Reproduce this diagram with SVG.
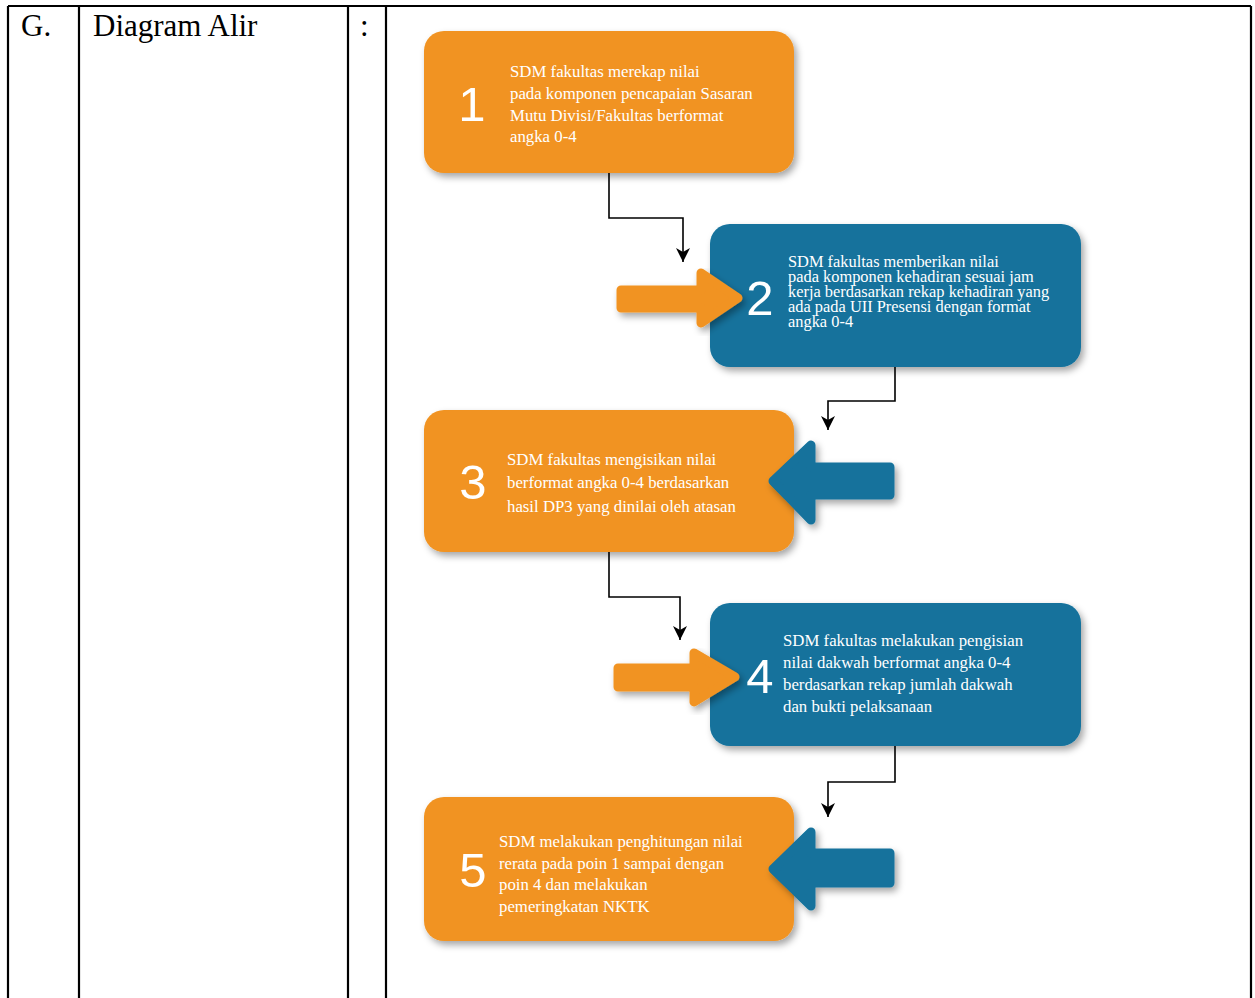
<svg xmlns="http://www.w3.org/2000/svg" width="1255" height="998" viewBox="0 0 1255 998">
<style>
.tbl{stroke:#000;stroke-width:2.2;fill:none}
.hd{font-family:"Liberation Serif","Times New Roman",serif;font-size:31px;fill:#000}
.or{fill:#F19321}
.bl{fill:#13729C}
.num{font-family:"Liberation Sans",Arial,sans-serif;font-size:49px;fill:#fff;text-anchor:middle}
.tx{font-family:"Liberation Serif","Times New Roman",serif;font-size:16.8px;fill:#fff}
.tx2{font-family:"Liberation Serif","Times New Roman",serif;font-size:16.4px;fill:#fff}
.conn{stroke:#000;stroke-width:1.6;fill:none}
.arr-o{fill:#F19321;stroke:#F19321;stroke-width:9;stroke-linejoin:round}
.arr-b{fill:#13729C;stroke:#13729C;stroke-width:9;stroke-linejoin:round}
</style>
<defs>
<filter id="sh" x="-10%" y="-10%" width="125%" height="135%">
<feDropShadow dx="3" dy="4" stdDeviation="3.5" flood-color="#000" flood-opacity="0.35"/>
</filter>
<marker id="ah" markerUnits="userSpaceOnUse" markerWidth="14" markerHeight="16" refX="14" refY="7" orient="auto" viewBox="0 0 14 14">
<path d="M0,0 L14,7 L0,14 L4,7 z" fill="#000"/>
</marker>
</defs>
<rect width="1255" height="998" fill="#fff"/>
<g id="table">
<line class="tbl" x1="8" y1="6" x2="1251" y2="6"/>
<line class="tbl" x1="8" y1="6" x2="8" y2="998"/>
<line class="tbl" x1="79" y1="6" x2="79" y2="998"/>
<line class="tbl" x1="348" y1="6" x2="348" y2="998"/>
<line class="tbl" x1="386" y1="6" x2="386" y2="998"/>
<line class="tbl" x1="1251" y1="6" x2="1251" y2="998"/>
<text class="hd" x="21" y="36">G.</text>
<text class="hd" x="93" y="36">Diagram Alir</text>
<text class="hd" x="360" y="36">:</text>
</g>
<g id="connectors">
<path class="conn" d="M609,173 V218 H683 V262" marker-end="url(#ah)"/>
<path class="conn" d="M895,367 V401 H828 V430" marker-end="url(#ah)"/>
<path class="conn" d="M609,552 V597 H680 V640" marker-end="url(#ah)"/>
<path class="conn" d="M895,746 V782 H828 V817" marker-end="url(#ah)"/>
</g>
<g id="node1">
<rect class="or" x="424" y="31" width="370" height="142" rx="20" filter="url(#sh)"/>
<text class="num" x="472" y="121">1</text>
<text class="tx" x="510" y="77">SDM fakultas merekap nilai</text>
<text class="tx" x="510" y="99">pada komponen pencapaian Sasaran</text>
<text class="tx" x="510" y="121">Mutu Divisi/Fakultas berformat</text>
<text class="tx" x="510" y="142">angka 0-4</text>
</g>
<g id="node2">
<rect class="bl" x="710" y="224" width="371" height="143" rx="20" filter="url(#sh)"/>
<polygon class="arr-o" points="621,290 701,290 701,273 738,298 701,323 701,308 621,308" filter="url(#sh)"/>
<text class="num" x="760" y="315">2</text>
<text class="tx2" x="788" y="267">SDM fakultas memberikan nilai</text>
<text class="tx2" x="788" y="282">pada komponen kehadiran sesuai jam</text>
<text class="tx2" x="788" y="297">kerja berdasarkan rekap kehadiran yang</text>
<text class="tx2" x="788" y="312">ada pada UII Presensi dengan format</text>
<text class="tx2" x="788" y="327">angka 0-4</text>
</g>
<g id="node3">
<rect class="or" x="424" y="410" width="370" height="142" rx="20" filter="url(#sh)"/>
<polygon class="arr-b" points="773,481 811,445 811,467 890,467 890,495 811,495 811,520" filter="url(#sh)"/>
<text class="num" x="473" y="499">3</text>
<text class="tx" x="507" y="465">SDM fakultas mengisikan nilai</text>
<text class="tx" x="507" y="488">berformat angka 0-4 berdasarkan</text>
<text class="tx" x="507" y="512">hasil DP3 yang dinilai oleh atasan</text>
</g>
<g id="node4">
<rect class="bl" x="710" y="603" width="371" height="143" rx="20" filter="url(#sh)"/>
<polygon class="arr-o" points="618,668 694,668 694,653 735,677 694,702 694,687 618,687" filter="url(#sh)"/>
<text class="num" x="760" y="693">4</text>
<text class="tx" x="783" y="646">SDM fakultas melakukan pengisian</text>
<text class="tx" x="783" y="668">nilai dakwah berformat angka 0-4</text>
<text class="tx" x="783" y="690">berdasarkan rekap jumlah dakwah</text>
<text class="tx" x="783" y="712">dan bukti pelaksanaan</text>
</g>
<g id="node5">
<rect class="or" x="424" y="797" width="370" height="144" rx="20" filter="url(#sh)"/>
<polygon class="arr-b" points="773,869 811,832 811,853 890,853 890,883 811,883 811,906" filter="url(#sh)"/>
<text class="num" x="473" y="887">5</text>
<text class="tx" x="499" y="847">SDM melakukan penghitungan nilai</text>
<text class="tx" x="499" y="869">rerata pada poin 1 sampai dengan</text>
<text class="tx" x="499" y="890">poin 4 dan melakukan</text>
<text class="tx" x="499" y="912">pemeringkatan NKTK</text>
</g>
</svg>
